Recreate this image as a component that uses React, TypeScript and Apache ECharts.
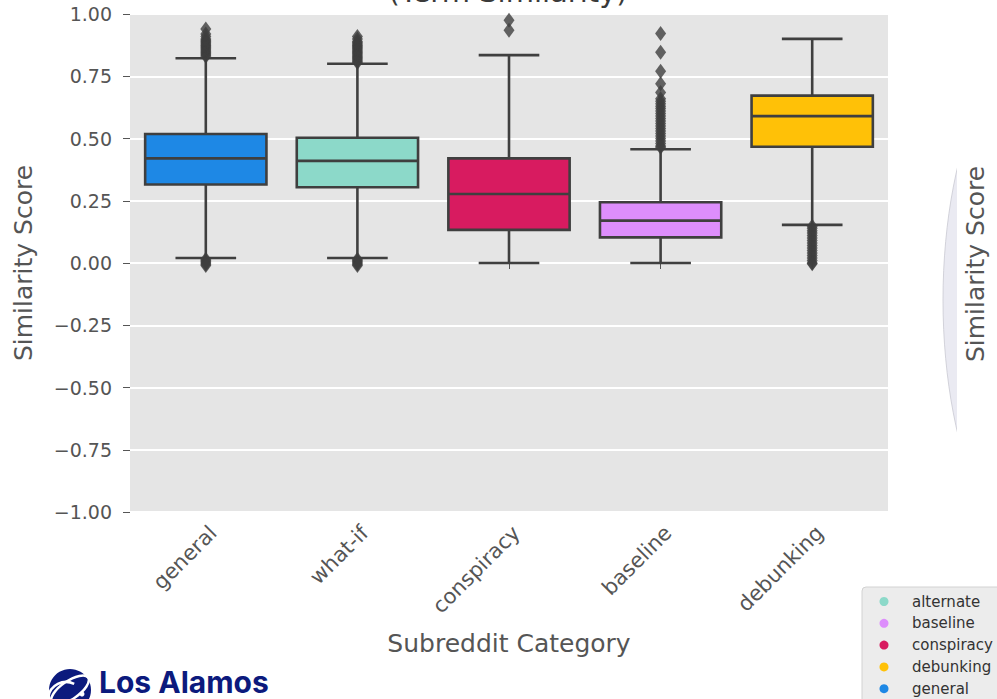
import React, { useEffect, useRef } from "react";
import * as echarts from "echarts";

// ---- data ----
const categories = ["general", "what-if", "conspiracy", "baseline", "debunking"];
// [lowWhisker, Q1, median, Q3, highWhisker]
const boxStats = [
  [0.02, 0.315, 0.42, 0.518, 0.822],
  [0.02, 0.304, 0.41, 0.503, 0.80],
  [0.0, 0.133, 0.277, 0.42, 0.835],
  [0.0, 0.103, 0.17, 0.244, 0.457],
  [0.153, 0.467, 0.59, 0.672, 0.90],
];
const boxColors = ["#1e88e5", "#8cd9c9", "#d81b60", "#dd8efc", "#ffc107"];

const outliersGeneral = [0.83, 0.835, 0.84, 0.845, 0.85, 0.855, 0.86, 0.865, 0.87, 0.875, 0.88, 0.885, 0.89, 0.895, 0.90, 0.91, 0.92, 0.94, 0.015, 0.01, 0.005, 0.0, -0.005, -0.01];
const outliersWhatIf = [0.805, 0.81, 0.815, 0.82, 0.825, 0.83, 0.835, 0.84, 0.845, 0.85, 0.855, 0.86, 0.865, 0.87, 0.875, 0.88, 0.885, 0.89, 0.90, 0.91, 0.015, 0.01, 0.005, 0.0, -0.005, -0.01];
const outliersConspiracy = [0.975, 0.935];
const outliersBaseline = [0.922, 0.846, 0.77, 0.72, 0.685, 0.66, 0.65, 0.64, 0.63, 0.62, 0.61, 0.60, 0.59, 0.58, 0.57, 0.56, 0.55, 0.54, 0.53, 0.52, 0.51, 0.50, 0.49, 0.48, 0.47, 0.465];
const outliersDebunking = [0.148, 0.14, 0.13, 0.12, 0.11, 0.10, 0.09, 0.08, 0.07, 0.06, 0.05, 0.04, 0.03, 0.02, 0.01, 0.0, -0.003];
const outlierLists = [outliersGeneral, outliersWhatIf, outliersConspiracy, outliersBaseline, outliersDebunking];

const yTicks = { min: -1, max: 1, interval: 0.25 };

const legendNames = ["alternate", "baseline", "conspiracy", "debunking", "general"];
const legendColors = ["#8cd9c9", "#dd8efc", "#d81b60", "#ffc107", "#1e88e5"];

const titleText = "(Term Similarity)";
const yName = "Similarity Score";
const xName = "Subreddit Category";
const logoText = "Los Alamos";

const FONT = "DejaVu Sans";
const EDGE = "#3f3f3f";

export default function App() {
  const ref = useRef<HTMLDivElement>(null);
  useEffect(() => {
    if (!ref.current) return;
    const chart = echarts.init(ref.current, undefined, { renderer: "svg" });

    const boxData = boxStats.map((s, i) => [i, ...s]);
    const outlierData: number[][] = [];
    outlierLists.forEach((list, i) => list.forEach((v) => outlierData.push([i, v])));

    const legendGraphics: any[] = [
      {
        type: "rect",
        shape: { x: 862, y: 587, width: 150, height: 125, r: 4 },
        style: { fill: "#ececec", stroke: "#d2d2d2", lineWidth: 1 },
        z: 10,
      },
    ];
    legendNames.forEach((n, i) => {
      const cy = 601.5 + i * 21.8;
      legendGraphics.push({
        type: "circle",
        shape: { cx: 884, cy, r: 4.5 },
        style: { fill: legendColors[i] },
        z: 11,
      });
      legendGraphics.push({
        type: "text",
        x: 912,
        y: cy,
        style: { text: n, font: `15px '${FONT}'`, fill: "#333", textAlign: "left", textVerticalAlign: "middle" },
        z: 11,
      });
    });

    const option: any = {
      animation: false,
      backgroundColor: "#ffffff",
      grid: {
        left: 130,
        right: 109,
        top: 14,
        bottom: 187,
        show: true,
        backgroundColor: "#e5e5e5",
        borderWidth: 0,
      },
      xAxis: {
        type: "category",
        data: categories,
        boundaryGap: true,
        axisLine: { show: false },
        axisTick: { show: true, alignWithLabel: true, length: 6, lineStyle: { color: "#555" } },
        axisLabel: {
          rotate: 45,
          margin: 10,
          color: "#555",
          fontFamily: FONT,
          fontSize: 21,
          align: "right",
          verticalAlign: "top",
          interval: 0,
        },
        splitLine: { show: false },
      },
      yAxis: {
        type: "value",
        min: yTicks.min,
        max: yTicks.max,
        interval: yTicks.interval,
        axisLine: { show: false },
        axisTick: { show: true, length: 7, lineStyle: { color: "#555" } },
        axisLabel: {
          margin: 18,
          color: "#555",
          fontFamily: FONT,
          fontSize: 19,
          formatter: (v: number) => (v < 0 ? "\u2212" + Math.abs(v).toFixed(2) : v.toFixed(2)),
        },
        splitLine: { show: true, lineStyle: { color: "#ffffff", width: 2 } },
      },
      series: [
        {
          type: "custom",
          data: boxData,
          encode: { x: 0, y: [1, 2, 3, 4, 5] },
          z: 3,
          renderItem: (params: any, api: any) => {
            const idx = api.value(0);
            const low = api.coord([idx, api.value(1)]);
            const q1 = api.coord([idx, api.value(2)]);
            const med = api.coord([idx, api.value(3)]);
            const q3 = api.coord([idx, api.value(4)]);
            const high = api.coord([idx, api.value(5)]);
            const band = api.size([1, 0])[0];
            const bw = band * 0.8;
            const cx = low[0];
            const lw = 2.6;
            const ls = { stroke: EDGE, lineWidth: lw };
            return {
              type: "group",
              children: [
                { type: "line", shape: { x1: cx, y1: q3[1], x2: cx, y2: high[1] }, style: ls },
                { type: "line", shape: { x1: cx, y1: q1[1], x2: cx, y2: low[1] }, style: ls },
                { type: "line", shape: { x1: cx - bw / 4, y1: high[1], x2: cx + bw / 4, y2: high[1] }, style: ls },
                { type: "line", shape: { x1: cx - bw / 4, y1: low[1], x2: cx + bw / 4, y2: low[1] }, style: ls },
                {
                  type: "rect",
                  shape: { x: cx - bw / 2, y: q3[1], width: bw, height: q1[1] - q3[1] },
                  style: { fill: boxColors[idx], stroke: EDGE, lineWidth: lw },
                },
                { type: "line", shape: { x1: cx - bw / 2, y1: med[1], x2: cx + bw / 2, y2: med[1] }, style: ls },
              ],
            };
          },
        },
        {
          type: "scatter",
          data: outlierData,
          symbol: "diamond",
          symbolSize: [11, 15],
          itemStyle: { color: EDGE },
          z: 4,
        },
      ],
      graphic: [
        {
          type: "text",
          x: 508,
          y: -8,
          style: { text: titleText, font: `29px '${FONT}'`, fill: "#3a3a3a", textAlign: "center", textVerticalAlign: "middle" },
        },
        {
          type: "text",
          x: 23,
          y: 263,
          rotation: Math.PI / 2,
          style: { text: yName, font: `25px '${FONT}'`, fill: "#555", textAlign: "center", textVerticalAlign: "middle" },
        },
        {
          type: "text",
          x: 509,
          y: 643,
          style: { text: xName, font: `25px '${FONT}'`, fill: "#555", textAlign: "center", textVerticalAlign: "middle" },
        },
        // partial neighbouring chart on the right edge
        {
          type: "ellipse",
          shape: { cx: 1074, cy: 300, rx: 131, ry: 290 },
          style: { fill: "#eaeaf2", stroke: "#c9c9d2", lineWidth: 0.8 },
        },
        {
          type: "rect",
          shape: { x: 957, y: 0, width: 40, height: 580 },
          style: { fill: "#ffffff" },
        },
        {
          type: "text",
          x: 975,
          y: 264,
          rotation: Math.PI / 2,
          style: { text: yName, font: `25px '${FONT}'`, fill: "#555", textAlign: "center", textVerticalAlign: "middle" },
        },
        ...legendGraphics,
        // logo
        {
          type: "circle",
          shape: { cx: 70, cy: 690, r: 21 },
          style: { fill: "#0c1a7d" },
        },
        {
          type: "ellipse",
          x: 70,
          y: 690,
          rotation: 0.6,
          shape: { cx: 0, cy: 0, rx: 22, ry: 9 },
          style: { fill: "none", stroke: "#ffffff", lineWidth: 2.5 },
        },
        {
          type: "arc",
          shape: { cx: 66, cy: 700, r: 18, startAngle: -Math.PI * 0.95, endAngle: -Math.PI * 0.35 },
          style: { stroke: "#ffffff", lineWidth: 2.5, fill: "none" },
        },
        {
          type: "circle",
          shape: { cx: 82, cy: 694, r: 2.5 },
          style: { fill: "#ffffff" },
        },
        {
          type: "text",
          x: 99,
          y: 682,
          style: { text: logoText, font: `bold 30px 'Inter'`, fill: "#0c1a7d", textAlign: "left", textVerticalAlign: "middle" },
        },
      ],
    };
    chart.setOption(option);
    return () => chart.dispose();
  }, []);
  return <div ref={ref} style={{ width: 997, height: 699, position: "absolute", left: 0, top: 0 }} />;
}
